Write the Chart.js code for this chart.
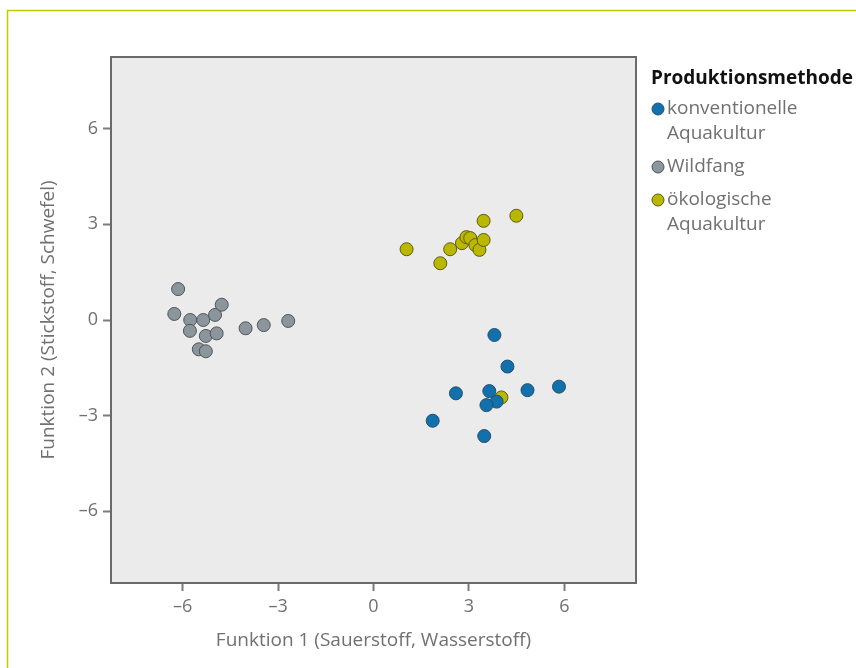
<!DOCTYPE html>
<html lang="de">
<head>
<meta charset="utf-8">
<title>Produktionsmethode – Diskriminanzfunktionen</title>
<script src="https://cdn.jsdelivr.net/npm/chart.js@4.4.1/dist/chart.umd.min.js"></script>
<style>
  html, body { margin: 0; padding: 0; background: #fff; }
  #wrap { width: 856px; height: 668px; }
</style>
</head>
<body>
<div id="wrap"><canvas id="myChart" width="856" height="668"></canvas></div>
<script>
// Funktion 1 / Funktion 2 je Probe
var konvX = [3.80, 4.21, 2.59, 3.64, 4.84, 5.83, 3.87, 3.55, 1.86, 3.48];
var konvY = [-0.47, -1.46, -2.30, -2.23, -2.20, -2.09, -2.56, -2.67, -3.16, -3.64];

var wildX = [-6.14, -6.26, -5.76, -5.35, -4.98, -4.77, -5.77, -5.27, -4.93, -5.49, -5.27, -4.02, -3.45, -2.68];
var wildY = [0.97, 0.19, 0.00, 0.00, 0.16, 0.48, -0.34, -0.50, -0.42, -0.92, -0.98, -0.26, -0.16, -0.03];

var oekoX = [1.04, 2.10, 2.41, 2.78, 2.92, 3.04, 3.20, 3.33, 3.46, 3.46, 4.49, 4.02];
var oekoY = [2.22, 1.78, 2.22, 2.41, 2.60, 2.57, 2.35, 2.20, 2.51, 3.11, 3.27, -2.43];

var seriesNames = [["konventionelle", "Aquakultur"], ["Wildfang"], ["ökologische", "Aquakultur"]];
var legendTitle = "Produktionsmethode";
var tickValues = [-6, -3, 0, 3, 6];
var axisMin = -8.25;
var axisMax = 8.25;

var fillColors = ["#1270ad", "#8a959c", "#b9b700"];
var edgeColors = ["#24506e", "#4f5559", "#5e5c10"];
var textGray = "#707070";
var fontName = "'Open Sans', 'Liberation Sans', sans-serif";

function toPoints(xs, ys){
  var pts = [];
  for (var i = 0; i < xs.length; i++){
    pts.push({x: xs[i], y: ys[i]});
  }
  return pts;
}

function dashLabel(v){
  return String(v).replace("-", "\u2013");
}

function fixedTicks(scale){
  scale.ticks = tickValues.map(function(v){ return {value: v}; });
}

// grey plot panel, border and the yellow page frame
var panelPlugin = {
  id: "panel",
  beforeDraw: function(chart){
    var ctx = chart.ctx, a = chart.chartArea;
    ctx.save();
    ctx.fillStyle = "#fff";
    ctx.fillRect(0, 0, chart.width, chart.height);
    ctx.strokeStyle = "#c8c700";
    ctx.lineWidth = 1.5;
    ctx.beginPath();
    ctx.moveTo(7.5, chart.height);
    ctx.lineTo(7.5, 10.5);
    ctx.lineTo(chart.width, 10.5);
    ctx.stroke();
    ctx.fillStyle = "#ebebeb";
    ctx.fillRect(a.left, a.top, a.right - a.left, a.bottom - a.top);
    ctx.restore();
  },
  afterDraw: function(chart){
    var ctx = chart.ctx, a = chart.chartArea;
    ctx.save();
    ctx.strokeStyle = "#6a6a6a";
    ctx.lineWidth = 2;
    ctx.strokeRect(a.left, a.top, a.right - a.left, a.bottom - a.top);
    ctx.restore();
  }
};

// legend with wrapped labels on the right side
var sideLegend = {
  id: "sideLegend",
  afterDraw: function(chart){
    var ctx = chart.ctx;
    var x0 = chart.chartArea.right + 15;
    ctx.save();
    ctx.textBaseline = "middle";
    ctx.textAlign = "left";
    ctx.fillStyle = "#111";
    ctx.font = "bold 19px " + fontName;
    ctx.fillText(legendTitle, x0, 79);
    ctx.font = "19px " + fontName;
    var y = 109;
    chart.data.datasets.forEach(function(ds, i){
      ctx.beginPath();
      ctx.arc(x0 + 7, y, 6, 0, Math.PI * 2);
      ctx.fillStyle = ds.backgroundColor;
      ctx.fill();
      ctx.lineWidth = 1;
      ctx.strokeStyle = ds.borderColor;
      ctx.stroke();
      ctx.fillStyle = textGray;
      seriesNames[i].forEach(function(line, j){
        ctx.fillText(line, x0 + 16, y + j * 25);
      });
      y += (seriesNames[i].length - 1) * 25 + 33;
    });
    ctx.restore();
  }
};

var series = [toPoints(konvX, konvY), toPoints(wildX, wildY), toPoints(oekoX, oekoY)];

var datasets = series.map(function(pts, i){
  return {
    label: seriesNames[i].join(" "),
    data: pts,
    backgroundColor: fillColors[i],
    borderColor: edgeColors[i],
    borderWidth: 1,
    pointRadius: 6.5,
    pointHoverRadius: 6.5
  };
});

function axis(titleText, isX){
  return {
    type: "linear",
    min: axisMin,
    max: axisMax,
    afterBuildTicks: fixedTicks,
    afterFit: function(scale){
      if (isX) scale.height = 85; else scale.width = 111;
    },
    grid: {
      display: true,
      drawOnChartArea: false,
      drawTicks: true,
      tickLength: 8,
      tickColor: "#7a7a7a",
      tickWidth: 2
    },
    border: { display: false },
    ticks: {
      padding: 5,
      color: textGray,
      font: { family: fontName, size: 18 },
      callback: dashLabel
    },
    title: {
      display: true,
      text: titleText,
      color: textGray,
      font: { family: fontName, size: 19 },
      padding: isX ? { top: 0, bottom: 16 } : { top: 37, bottom: 0 }
    }
  };
}

new Chart("myChart", {
  type: "scatter",
  data: { datasets: datasets },
  options: {
    responsive: false,
    animation: false,
    layout: { padding: { left: 0, top: 57, right: 220, bottom: 0 } },
    plugins: {
      legend: { display: false },
      tooltip: { enabled: false }
    },
    scales: {
      x: axis("Funktion 1 (Sauerstoff, Wasserstoff)", true),
      y: axis("Funktion 2 (Stickstoff, Schwefel)", false)
    }
  },
  plugins: [panelPlugin, sideLegend]
});
</script>
</body>
</html>
